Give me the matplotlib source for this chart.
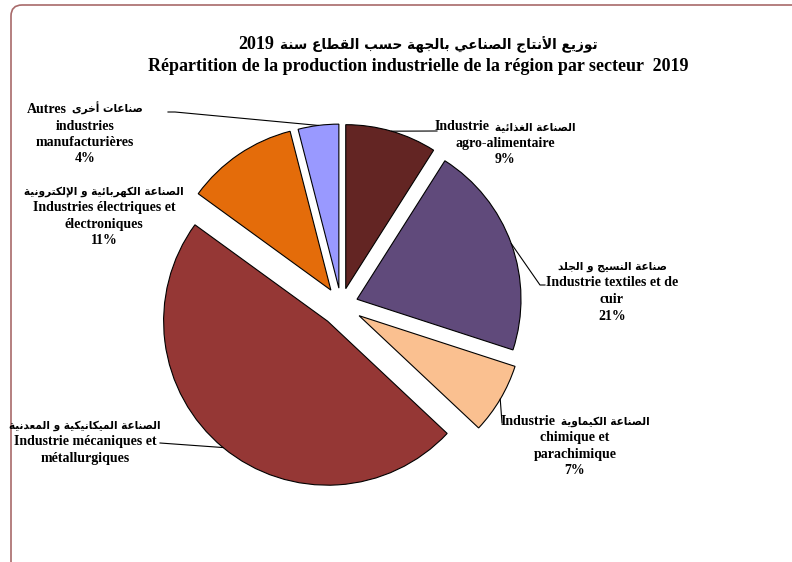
import matplotlib
matplotlib.use("Agg")
import matplotlib.pyplot as plt
from matplotlib.patches import FancyBboxPatch
import numpy as np

# ---------------- Arabic shaping helper (presentation forms, visual order) ----
AR_FORMS = {
    '\u0627': ('\uFE8D', '\uFE8E'), '\u0623': ('\uFE83', '\uFE84'),
    '\u0625': ('\uFE87', '\uFE88'), '\u0629': ('\uFE93', '\uFE94'),
    '\u062F': ('\uFEA9', '\uFEAA'), '\u0630': ('\uFEAB', '\uFEAC'),
    '\u0631': ('\uFEAD', '\uFEAE'), '\u0632': ('\uFEAF', '\uFEB0'),
    '\u0648': ('\uFEED', '\uFEEE'), '\u0649': ('\uFEEF', '\uFEF0'),
    '\u0628': ('\uFE8F', '\uFE90', '\uFE91', '\uFE92'),
    '\u062A': ('\uFE95', '\uFE96', '\uFE97', '\uFE98'),
    '\u062C': ('\uFE9D', '\uFE9E', '\uFE9F', '\uFEA0'),
    '\u062D': ('\uFEA1', '\uFEA2', '\uFEA3', '\uFEA4'),
    '\u062E': ('\uFEA5', '\uFEA6', '\uFEA7', '\uFEA8'),
    '\u0633': ('\uFEB1', '\uFEB2', '\uFEB3', '\uFEB4'),
    '\u0635': ('\uFEB9', '\uFEBA', '\uFEBB', '\uFEBC'),
    '\u0637': ('\uFEC1', '\uFEC2', '\uFEC3', '\uFEC4'),
    '\u0639': ('\uFEC9', '\uFECA', '\uFECB', '\uFECC'),
    '\u063A': ('\uFECD', '\uFECE', '\uFECF', '\uFED0'),
    '\u0642': ('\uFED5', '\uFED6', '\uFED7', '\uFED8'),
    '\u0643': ('\uFED9', '\uFEDA', '\uFEDB', '\uFEDC'),
    '\u0644': ('\uFEDD', '\uFEDE', '\uFEDF', '\uFEE0'),
    '\u0645': ('\uFEE1', '\uFEE2', '\uFEE3', '\uFEE4'),
    '\u0646': ('\uFEE5', '\uFEE6', '\uFEE7', '\uFEE8'),
    '\u0647': ('\uFEE9', '\uFEEA', '\uFEEB', '\uFEEC'),
    '\u064A': ('\uFEF1', '\uFEF2', '\uFEF3', '\uFEF4'),
    '\u0626': ('\uFE89', '\uFE8A', '\uFE8B', '\uFE8C'),
    'LA_\u0627': ('\uFEFB', '\uFEFC'),
    'LA_\u0623': ('\uFEF7', '\uFEF8'),
    'LA_\u0625': ('\uFEF9', '\uFEFA'),
}


def shape_ar(s):
    toks, i = [], 0
    while i < len(s):
        c = s[i]
        if c == '\u0644' and i + 1 < len(s) and s[i + 1] in '\u0627\u0623\u0625':
            toks.append('LA_' + s[i + 1]); i += 2
        else:
            toks.append(c); i += 1
    out = []
    for k, t in enumerate(toks):
        f = AR_FORMS.get(t)
        if f is None:
            out.append(t); continue
        prev = AR_FORMS.get(toks[k - 1]) if k > 0 else None
        nxt = AR_FORMS.get(toks[k + 1]) if k + 1 < len(toks) else None
        jp = prev is not None and len(prev) == 4
        jn = len(f) == 4 and nxt is not None
        if jp and jn:
            out.append(f[3])
        elif jp:
            out.append(f[1])
        elif jn:
            out.append(f[2])
        else:
            out.append(f[0])
    return ''.join(out)


def ar(s):
    return shape_ar(s)[::-1]


# ---------------- Data ----------------
sectors = ["agro-alimentaire", "textiles et cuir", "chimique et parachimique",
           "mécaniques et métallurgiques", "électriques et électroniques",
           "autres industries manufacturières"]
shares = [9, 21, 7, 48, 11, 4]
# each label: list of lines; each line: list of (kind, text) in visual left-to-right order
labels = [
    [[("fr", "Industrie"), ("ar", "الصناعة الغذائية")], [("fr", "agro-alimentaire")], [("fr", "9%")]],
    [[("ar", "صناعة النسيج و الجلد")], [("fr", "Industrie textiles et de")], [("fr", "cuir")], [("fr", "21%")]],
    [[("fr", "Industrie"), ("ar", "الصناعة الكيماوية")], [("fr", "chimique et")], [("fr", "parachimique")], [("fr", "7%")]],
    [[("ar", "الصناعة الميكانيكية و المعدنية")], [("fr", "Industrie mécaniques et")], [("fr", "métallurgiques")]],
    [[("ar", "الصناعة الكهربائية و الإلكترونية")], [("fr", "Industries électriques et")], [("fr", "électroniques")], [("fr", "11%")]],
    [[("fr", "Autres"), ("ar", "صناعات أخرى")], [("fr", "industries")], [("fr", "manufacturières")], [("fr", "4%")]],
]
title_line1 = [("fr", "2019"), ("ar", "توزيع الأنتاج الصناعي بالجهة حسب القطاع سنة")]
title_line2 = [("fr", "Répartition de la production industrielle de la région par secteur  2019")]

colors = ["#632523", "#604A7B", "#FAC090", "#953735", "#E46C0A", "#9999FF"]
explode_px = [17, 17, 21, 21, 18, 17]

# layout (image pixel coords, y downward)
W, H = 792, 562
label_pos = [(505, 126), (612, 266), (575, 421), (85, 425), (104, 191), (85, 109)]
line_step = 16.5
leader_end = [[(437, 131)], [(540, 285), (545, 285)], [(502, 423)], [(160, 443)],
              None, [(175, 112), (168, 112)]]

SERIF = ['Liberation Serif', 'DejaVu Sans']
ARAB = ['DejaVu Sans']

fig = plt.figure(figsize=(W / 100, H / 100), dpi=100)
ax = fig.add_axes([0, 0, 1, 1])
renderer = fig.canvas.get_renderer()


def Y(y):
    return H - y


def draw_line(xc, yc, segs, fr_size, ar_size, gap=5):
    ts = []
    for kind, s in segs:
        if kind == "ar":
            t = ax.text(0, Y(yc) - 4, ar(s), fontsize=ar_size, fontweight='bold',
                        family=ARAB, ha='left', va='baseline', zorder=5)
        else:
            t = ax.text(0, Y(yc) - 4, s, fontsize=fr_size, fontweight='bold',
                        family=SERIF, ha='left', va='baseline', zorder=5)
        ts.append(t)
    ws = [t.get_window_extent(renderer).width for t in ts]
    total = sum(ws) + gap * (len(ts) - 1)
    x = xc - total / 2
    for t, w in zip(ts, ws):
        t.set_x(x)
        x += w + gap


# frame
frame = FancyBboxPatch((11, Y(575)), 820, 570, boxstyle="round,pad=0,rounding_size=11",
                       fc='white', ec='#A86A6A', lw=1.2, zorder=0)
ax.add_patch(frame)

wedges, _ = ax.pie(shares, explode=explode_px, colors=colors, startangle=90,
                   counterclock=False, center=(341, Y(305)), radius=164,
                   wedgeprops=dict(edgecolor='black', linewidth=0.8), frame=True)
ax.set_xlim(0, W)
ax.set_ylim(0, H)
ax.set_aspect('equal')
ax.axis('off')

for w, lab, (lx, ly), le in zip(wedges, labels, label_pos, leader_end):
    for j, line in enumerate(lab):
        draw_line(lx, ly + j * line_step, line, 10, 7.6)
    if le is not None:
        mid = np.deg2rad((w.theta1 + w.theta2) / 2)
        cx, cy = w.center
        sx, sy = cx + w.r * np.cos(mid), cy + w.r * np.sin(mid)
        xs = [sx] + [p[0] for p in le]
        ys = [sy] + [Y(p[1]) for p in le]
        ax.plot(xs, ys, color='black', lw=0.8, zorder=4)

draw_line(418, 45, title_line1, 13, 9.8, gap=6)
draw_line(418, 67, title_line2, 13, 9.8)

fig.savefig("out.png", dpi=100)
